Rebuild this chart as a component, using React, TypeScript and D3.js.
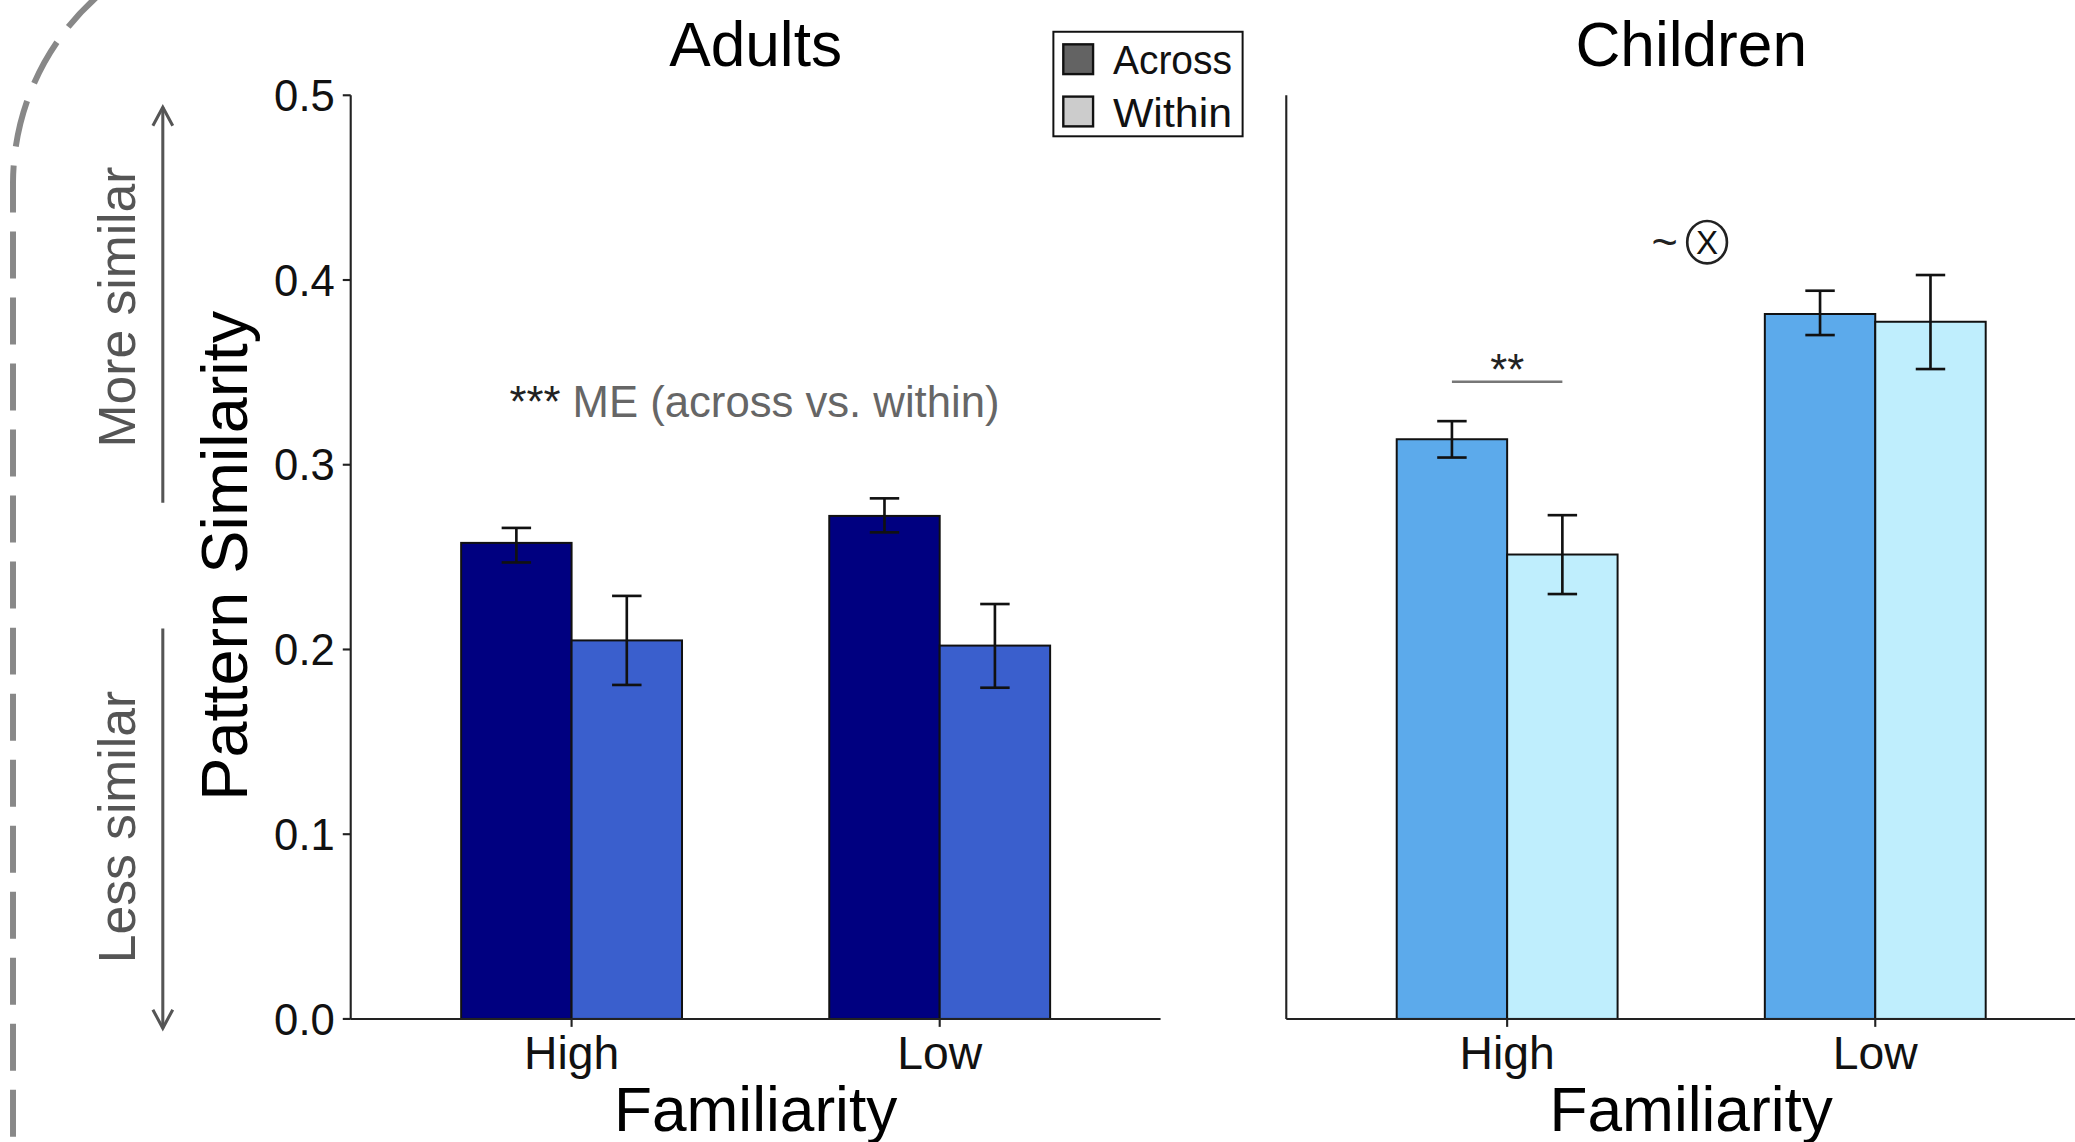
import React from 'react';
import * as d3 from 'd3';

const categories = ['High', 'Low'];
const yTicks = [0, 0.1, 0.2, 0.3, 0.4, 0.5];
const legendLabels = ['Across', 'Within'];
const legendColors = ['#636363', '#cccccc'];

const adultsAcross = [0.2577, 0.2723];
const adultsAcrossLo = [0.2471, 0.2634];
const adultsAcrossHi = [0.2658, 0.2818];
const adultsWithin = [0.2049, 0.2021];
const adultsWithinLo = [0.1808, 0.1793];
const adultsWithinHi = [0.229, 0.2246];

const childrenAcross = [0.3138, 0.3816];
const childrenAcrossLo = [0.3039, 0.3702];
const childrenAcrossHi = [0.3236, 0.3942];
const childrenWithin = [0.2514, 0.3774];
const childrenWithinLo = [0.23, 0.3518];
const childrenWithinHi = [0.2727, 0.4027];

const FONT = "'Liberation Sans', Arial, Helvetica, sans-serif";
const W = 1568;
const H = 863;

const y = d3.scaleLinear().domain([0, 0.5]).range([770, 72]);

type PanelProps = {
  x0: number;
  title: string;
  across: number[];
  acrossLo: number[];
  acrossHi: number[];
  within: number[];
  withinLo: number[];
  withinHi: number[];
  colors: [string, string];
  showTicks: boolean;
};

function Panel(p: PanelProps) {
  const x = d3.scaleLinear().domain([0.4, 2.6]).range([p.x0, p.x0 + 612]);
  const bw = 0.3;
  const cap = 0.04;
  const series = [
    { vals: p.across, lo: p.acrossLo, hi: p.acrossHi, off: -bw, color: p.colors[0] },
    { vals: p.within, lo: p.withinLo, hi: p.withinHi, off: 0, color: p.colors[1] },
  ];
  const [xa, xb] = x.range();
  return (
    <g>
      <text x={(xa + xb) / 2} y={50} textAnchor="middle" fontSize={47} fontFamily={FONT} fill="#000">
        {p.title}
      </text>
      {series.map((s, si) =>
        s.vals.map((v, i) => (
          <rect
            key={`b${si}-${i}`}
            x={x(i + 1 + s.off)}
            y={y(v)}
            width={x(i + 1 + s.off + bw) - x(i + 1 + s.off)}
            height={y(0) - y(v)}
            fill={s.color}
            stroke="#111"
            strokeWidth={1.5}
          />
        ))
      )}
      {series.map((s, si) =>
        s.vals.map((v, i) => {
          const cx = x(i + 1 + s.off + bw / 2);
          const hw = x(cap) - x(0);
          return (
            <g key={`e${si}-${i}`} stroke="#111" strokeWidth={2} fill="none">
              <line x1={cx} x2={cx} y1={y(s.hi[i])} y2={y(s.lo[i])} />
              <line x1={cx - hw} x2={cx + hw} y1={y(s.hi[i])} y2={y(s.hi[i])} />
              <line x1={cx - hw} x2={cx + hw} y1={y(s.lo[i])} y2={y(s.lo[i])} />
            </g>
          );
        })
      )}
      <line x1={xa} x2={xa} y1={y(0.5)} y2={y(0)} stroke="#222" strokeWidth={1.6} />
      <line x1={xa} x2={xb} y1={y(0)} y2={y(0)} stroke="#222" strokeWidth={1.6} />
      {p.showTicks &&
        yTicks.map((t) => (
          <g key={`yt${t}`}>
            <line x1={xa - 6} x2={xa} y1={y(t)} y2={y(t)} stroke="#222" strokeWidth={1.6} />
            <text x={xa - 12} y={y(t)} dy="0.36em" textAnchor="end" fontSize={33} fontFamily={FONT} fill="#111">
              {d3.format('.1f')(t)}
            </text>
          </g>
        ))}
      {categories.map((c, i) => (
        <g key={`xt${c}`}>
          <line x1={x(i + 1)} x2={x(i + 1)} y1={y(0)} y2={y(0) + 6} stroke="#222" strokeWidth={1.6} />
          <text x={x(i + 1)} y={808} textAnchor="middle" fontSize={35} fontFamily={FONT} fill="#111">
            {c}
          </text>
        </g>
      ))}
      <text x={(xa + xb) / 2} y={855} textAnchor="middle" fontSize={47} fontFamily={FONT} fill="#000">
        Familiarity
      </text>
    </g>
  );
}

export default function App() {
  const cx2 = d3.scaleLinear().domain([0.4, 2.6]).range([972, 1584]);
  return (
    <svg
      width={2075}
      height={1142}
      viewBox={`0 0 ${W} ${H}`}
      style={{ position: 'absolute', left: 0, top: 0, background: '#fff' }}
    >
      <rect x={0} y={0} width={W} height={H} fill="#fff" />
      <path
        d={`M 9.8 ${H} L 9.8 138 A 189 189 0 0 1 110 -28`}
        fill="none"
        stroke="#888"
        strokeWidth={4.5}
        strokeDasharray="35.5 14.4"
        strokeDashoffset={46}
      />
      <g stroke="#555" strokeWidth={2.3} fill="none">
        <line x1={123} x2={123} y1={380} y2={81} />
        <polyline points={`115.5,95 123,81 130.5,95`} />
        <line x1={123} x2={123} y1={475} y2={777} />
        <polyline points={`115.5,763 123,777 130.5,763`} />
      </g>
      <text transform="translate(102,232) rotate(-90)" textAnchor="middle" fontSize={39} fontFamily={FONT} fill="#555">
        More similar
      </text>
      <text transform="translate(102,625) rotate(-90)" textAnchor="middle" fontSize={39} fontFamily={FONT} fill="#555">
        Less similar
      </text>
      <text transform="translate(187,420) rotate(-90)" textAnchor="middle" fontSize={49} fontFamily={FONT} fill="#000">
        Pattern Similarity
      </text>

      <Panel
        x0={265}
        title="Adults"
        across={adultsAcross}
        acrossLo={adultsAcrossLo}
        acrossHi={adultsAcrossHi}
        within={adultsWithin}
        withinLo={adultsWithinLo}
        withinHi={adultsWithinHi}
        colors={['#000080', '#3A5FCD']}
        showTicks={true}
      />
      <Panel
        x0={972}
        title="Children"
        across={childrenAcross}
        acrossLo={childrenAcrossLo}
        acrossHi={childrenAcrossHi}
        within={childrenWithin}
        withinLo={childrenWithinLo}
        withinHi={childrenWithinHi}
        colors={['#5CAAEB', '#BFEEFD']}
        showTicks={false}
      />

      <text x={385} y={315} fontSize={33} fontFamily={FONT} fill="#666">
        <tspan fill="#222">***</tspan> ME (across vs. within)
      </text>
      <line x1={cx2(0.85)} x2={cx2(1.15)} y1={288.5} y2={288.5} stroke="#777" strokeWidth={2} />
      <text x={cx2(1)} y={291} textAnchor="middle" fontSize={33} fontFamily={FONT} fill="#222">
        **
      </text>
      <text x={1258} y={194} textAnchor="middle" fontSize={34} fontFamily={FONT} fill="#222">
        ~
      </text>
      <ellipse cx={1290} cy={183} rx={15} ry={16} fill="none" stroke="#222" strokeWidth={2} />
      <text x={1290} y={183} dy="0.36em" textAnchor="middle" fontSize={25} fontFamily={FONT} fill="#111">
        X
      </text>

      <rect x={796} y={24} width={143} height={79} fill="#fff" stroke="#111" strokeWidth={1.5} />
      {legendLabels.map((l, i) => (
        <g key={l}>
          <rect x={803.5} y={[33.5, 73][i]} width={22.5} height={22.5} fill={legendColors[i]} stroke="#111" strokeWidth={1.8} />
          <text
            x={841}
            y={[56, 95.7][i]}
            fontSize={31}
            fontFamily={"'Liberation Sans Narrow', 'Liberation Sans', Arial, sans-serif"}
            textLength={90}
            lengthAdjust="spacingAndGlyphs"
            fill="#111"
          >
            {l}
          </text>
        </g>
      ))}
    </svg>
  );
}
